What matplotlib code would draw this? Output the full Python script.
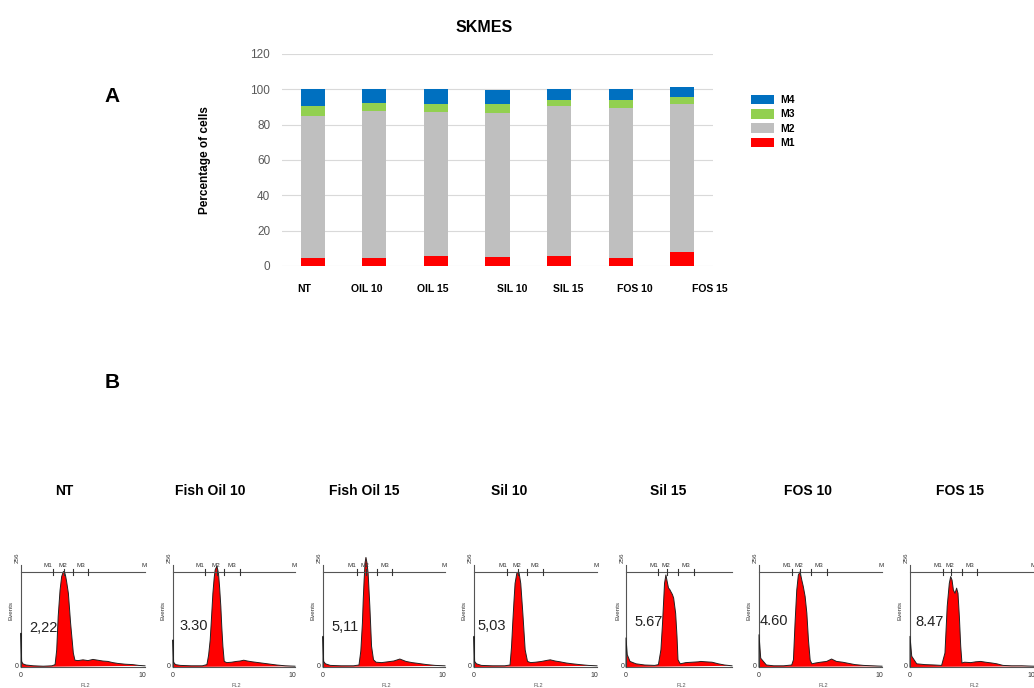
import matplotlib
matplotlib.use("Agg")
import matplotlib.pyplot as plt
import numpy as np

plt.rcParams['font.family'] = ['Liberation Sans', 'DejaVu Sans']

# ---------------- data: panel A ----------------
categories = ['NT', 'OIL 10', 'OIL 15', 'SIL 10', 'SIL 15', 'FOS 10', 'FOS 15']
m1 = [4.3, 4.5, 5.7, 5.1, 5.5, 4.7, 8.1]
m2 = [80.7, 83.2, 81.5, 81.5, 85.3, 84.5, 83.6]
m3 = [5.8, 4.3, 4.5, 4.9, 3.2, 4.8, 4.1]
m4 = [9.2, 8.0, 8.3, 8.1, 6.0, 6.4, 5.5]
series_names = ['M1', 'M2', 'M3', 'M4']
yticks_a = [0, 20, 40, 60, 80, 100, 120]

# ---------------- data: panel B (histogram outlines) ----------------
panel_titles = ['NT', 'Fish Oil 10', 'Fish Oil 15', 'Sil 10', 'Sil 15', 'FOS 10', 'FOS 15']
panel_values = ['2,22', '3.30', '5,11', '5,03', '5.67', '4.60', '8.47']

nt_x = [0, 0, 0.05, 0.15, 0.4, 1.0, 1.8, 2.5, 2.75, 2.88, 3.0, 3.15, 3.28, 3.41, 3.5, 3.6, 3.68,
        3.82, 4.0, 4.22, 4.35, 4.6, 5.0, 5.4, 5.8, 6.2, 6.6, 7.0, 7.4, 7.8, 8.4, 9.0, 9.5, 10]
nt_y = [0, 85, 14, 8, 5, 3, 2, 3, 6, 43, 127, 193, 227, 239, 240, 228, 214,
        185, 110, 35, 17, 16, 18, 16, 19, 17, 15, 14, 11, 9, 7, 6, 4, 3]

fo10_x = [0, 0, 0.05, 0.2, 0.6, 1.5, 2.4, 2.78, 2.92, 3.05, 3.15, 3.27, 3.38, 3.46, 3.6, 3.73,
          3.82, 3.92, 4.0, 4.09, 4.2, 4.4, 4.8, 5.2, 5.5, 5.8, 6.1, 6.5, 7.0, 7.5, 8.0, 8.5, 9.2, 10]
fo10_y = [0, 68, 12, 6, 4, 3, 3, 6, 30, 68, 120, 185, 225, 244, 253, 235,
          200, 152, 100, 52, 14, 11, 12, 14, 15, 17, 15, 13, 11, 9, 7, 5, 3, 2]

fo15_x = [0, 0, 0.05, 0.2, 0.6, 1.5, 2.5, 2.95, 3.1, 3.23, 3.3, 3.37, 3.45, 3.52, 3.6, 3.7,
          3.84, 3.98, 4.14, 4.35, 4.8, 5.3, 5.8, 6.3, 6.8, 7.3, 7.8, 8.5, 9.2, 10]
fo15_y = [0, 77, 14, 8, 4, 3, 3, 5, 40, 110, 170, 218, 262, 275, 262, 235,
          152, 52, 18, 12, 11, 13, 15, 20, 14, 11, 9, 6, 4, 3]

sil10_x = [0, 0, 0.05, 0.2, 0.6, 1.5, 2.5, 2.93, 3.05, 3.15, 3.25, 3.34, 3.48, 3.58, 3.67, 3.8,
           3.97, 4.16, 4.35, 4.6, 5.0, 5.5, 6.0, 6.2, 6.6, 7.0, 7.5, 8.0, 8.6, 9.3, 10]
sil10_y = [0, 77, 14, 8, 4, 3, 3, 5, 50, 110, 165, 210, 235, 238, 235, 210,
           135, 43, 14, 11, 12, 14, 17, 18, 15, 13, 10, 8, 6, 4, 3]

sil15_x = [0, 0, 0.1, 0.32, 0.8, 1.5, 2.3, 2.6, 2.8, 2.93, 3.09, 3.2, 3.28, 3.41, 3.5, 3.6,
           3.72, 3.82, 3.98, 4.09, 4.17, 4.35, 4.8, 5.3, 5.8, 6.0, 6.4, 6.9, 7.4, 7.9, 8.5]
sil15_y = [0, 73, 31, 14, 8, 5, 4, 6, 43, 110, 210, 231, 218, 198, 195, 189,
           182, 173, 135, 77, 18, 8, 11, 12, 13, 14, 13, 12, 8, 5, 3]

fos10_x = [0, 0, 0.14, 0.6, 1.2, 2.0, 2.66, 2.8, 2.93, 3.07, 3.2, 3.34, 3.48, 3.6, 3.75, 3.89,
           4.02, 4.16, 4.3, 4.6, 5.0, 5.5, 5.9, 6.3, 6.8, 7.3, 7.8, 8.5, 9.2, 10]
fos10_y = [0, 81, 22, 5, 3, 3, 5, 18, 110, 193, 231, 239, 218, 202, 177, 135,
           68, 17, 8, 10, 12, 14, 20, 14, 12, 9, 6, 4, 3, 2]

fos15_x = [0, 0, 0.14, 0.54, 1.2, 2.0, 2.55, 2.82, 3.0, 3.17, 3.28, 3.39, 3.5, 3.63, 3.76, 3.87,
           3.98, 4.09, 4.19, 4.4, 4.9, 5.3, 5.7, 6.1, 6.6, 7.0, 7.5, 8.2, 9.0, 10]
fos15_y = [0, 77, 27, 8, 6, 5, 4, 35, 152, 210, 227, 218, 193, 185, 198, 185,
           127, 52, 10, 12, 11, 13, 14, 12, 10, 8, 4, 3, 3, 2]

# gate marker boundaries (M1..M3) per panel
gates_nt = [2.6, 3.5, 4.17, 5.43]
gates_fo10 = [2.64, 3.6, 4.2, 5.5]
gates_fo15 = [2.76, 3.5, 4.42, 5.66]
gates_sil10 = [2.72, 3.61, 4.29, 5.57]
gates_sil15 = [2.6, 3.28, 4.17, 5.43]
gates_fos10 = [2.66, 3.34, 4.21, 5.52]
gates_fos15 = [2.63, 3.28, 4.22, 5.43]

hist_x = [nt_x, fo10_x, fo15_x, sil10_x, sil15_x, fos10_x, fos15_x]
hist_y = [nt_y, fo10_y, fo15_y, sil10_y, sil15_y, fos10_y, fos15_y]
gates = [gates_nt, gates_fo10, gates_fo15, gates_sil10, gates_sil15, gates_fos10, gates_fos15]

# ---------------- figure ----------------
W, H = 1034, 688
fig = plt.figure(figsize=(W / 100, H / 100), dpi=100)

def fx(px):
    return px / W

def fy(py):
    return 1 - py / H

# ---- panel A ----
colors = {'M1': '#FF0000', 'M2': '#BFBFBF', 'M3': '#92D050', 'M4': '#0070C0'}
axA = fig.add_axes([fx(282), fy(266), fx(713) - fx(282), fy(54) - fy(266)])
xpos = np.arange(len(categories))
bottom = np.zeros(len(categories))
handles = {}
for name, vals in zip(series_names, [m1, m2, m3, m4]):
    b = axA.bar(xpos, vals, width=0.39, bottom=bottom, color=colors[name],
                edgecolor='none', zorder=3, label=name)
    handles[name] = b
    bottom = bottom + np.array(vals)
axA.set_xlim(-0.5, len(categories) - 0.5)
axA.set_ylim(0, 120)
axA.set_yticks(yticks_a)
axA.yaxis.grid(True, color='#D9D9D9', lw=0.8, zorder=0)
for s in axA.spines.values():
    s.set_visible(False)
axA.tick_params(axis='y', length=0, pad=8.5, labelsize=8.5, labelcolor='#595959')
label_shift = [-0.14, -0.12, -0.05, 0.24, 0.15, 0.23, 0.45]
axA.set_xticks(xpos + np.array(label_shift))
axA.set_xticklabels(categories, fontweight='bold', fontsize=7.5)
axA.tick_params(axis='x', length=0, pad=13)

fig.text(fx(484), fy(27), 'SKMES', ha='center', va='center', fontsize=11.5, fontweight='bold')
fig.text(fx(205), fy(160), 'Percentage of cells', ha='center', va='center', rotation=90,
         fontsize=8.5, fontweight='bold')
fig.text(fx(112), fy(97), 'A', ha='center', va='center', fontsize=15, fontweight='bold')
fig.text(fx(112), fy(383), 'B', ha='center', va='center', fontsize=15, fontweight='bold')

leg_order = ['M4', 'M3', 'M2', 'M1']
fig.legend([handles[n] for n in leg_order], leg_order, loc='upper left',
           bbox_to_anchor=(fx(751), fy(95)), frameon=False, fontsize=7.5,
           handlelength=2.2, handleheight=1.0, labelspacing=0.38, handletextpad=0.6,
           borderpad=0, borderaxespad=0, prop={'weight': 'bold', 'size': 7.5})

# ---- panel B ----
panel_left = [21, 173, 323, 474, 626, 759, 910]
panel_width = [124, 122, 122, 123, 106, 123, 124]
panel_xmax = [10, 10, 10, 10, 8.5, 10, 10]
title_x = [64, 210, 364, 509, 668, 808, 960]
val_pos = [(1.8, 98), (1.7, 102), (1.85, 100), (1.44, 103), (1.8, 114), (1.17, 116), (1.56, 112)]

for i in range(7):
    ax = fig.add_axes([fx(panel_left[i]), fy(667), fx(panel_width[i]), fy(565) - fy(667)])
    ax.set_xlim(0, panel_xmax[i])
    ax.set_ylim(0, 256)
    ax.fill(hist_x[i], hist_y[i], color='#FF0000', lw=0, clip_on=False, zorder=2)
    ax.plot(hist_x[i], hist_y[i], color='#222222', lw=0.7, clip_on=False, zorder=3)
    for s in ['top', 'right']:
        ax.spines[s].set_visible(False)
    for s in ['left', 'bottom']:
        ax.spines[s].set_color('#555555')
        ax.spines[s].set_linewidth(0.8)
    ax.set_xticks([])
    ax.set_yticks([])
    # gate line
    g = gates[i]
    ax.plot([0, panel_xmax[i]], [238, 238], color='#555555', lw=0.8, clip_on=False, zorder=4)
    for t in g:
        ax.plot([t, t], [231, 245], color='#333333', lw=0.8, clip_on=False, zorder=4)
    ax.text(g[0] - 0.4, 255, 'M1', fontsize=4.5, ha='center', va='center', color='#333333')
    ax.text(g[1] - 0.1, 255, 'M2', fontsize=4.5, ha='center', va='center', color='#333333')
    ax.text((g[2] + g[3]) / 2, 255, 'M3', fontsize=4.5, ha='center', va='center', color='#333333')
    if panel_xmax[i] == 10:
        ax.text(9.9, 255, 'M', fontsize=4.5, ha='center', va='center', color='#333333')
    # axes labels
    ax.text(-0.035, 1.02, '256', transform=ax.transAxes, rotation=90, fontsize=4.5,
            ha='center', va='bottom', color='#333333')
    ax.text(-0.035, 0.0, '0', transform=ax.transAxes, fontsize=5, ha='center', va='center',
            color='#333333')
    ax.text(-0.08, 0.55, 'Events', transform=ax.transAxes, rotation=90, fontsize=4.5,
            ha='center', va='center', color='#333333')
    ax.text(0, -0.08, '0', fontsize=5, ha='center', va='center', color='#333333',
            transform=ax.get_xaxis_transform())
    if panel_xmax[i] == 10:
        ax.text(9.8, -0.08, '10', fontsize=5, ha='center', va='center', color='#333333',
                transform=ax.get_xaxis_transform())
    ax.text(0.52, -0.18, 'FL2', transform=ax.transAxes, fontsize=4, ha='center',
            va='center', color='#555555')
    vx, vy = val_pos[i]
    ax.text(vx, vy, panel_values[i], fontsize=10.5, ha='center', va='center', color='#222222')
    fig.text(fx(title_x[i]), fy(491), panel_titles[i], ha='center', va='center',
             fontsize=10, fontweight='bold')

fig.savefig('out.png', dpi=100)
